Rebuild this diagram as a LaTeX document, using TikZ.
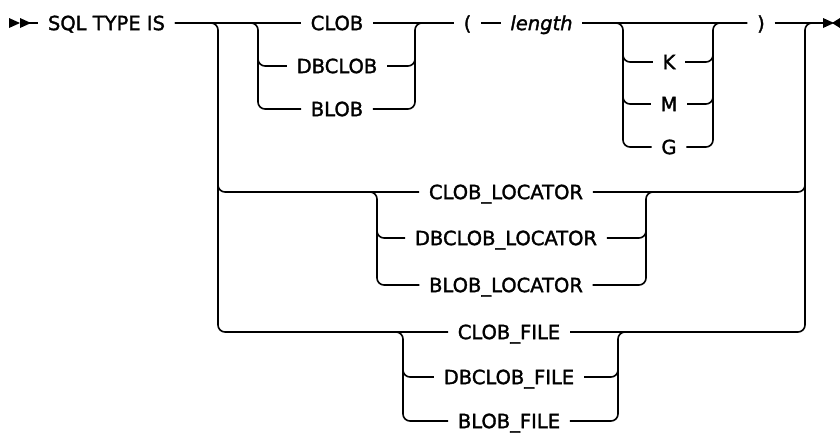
\documentclass[tikz,border=0pt]{standalone}
\usepackage{fontspec}
\setmainfont{DejaVu Sans}
\newfontfamily\railfont[FakeBold=1.6]{DejaVu Sans}
\usepackage{tikz}
\newcommand{\RailTipRight}[2]{\fill (#1,#2-5) -- (#1+11,#2) -- (#1,#2+5) -- cycle;}
\newcommand{\RailTipLeft}[2]{\fill (#1,#2-5) -- (#1-8,#2) -- (#1,#2+5) -- cycle;}
\newcommand{\RailFont}{\railfont\fontsize{19.5}{22}\selectfont}

\begin{document}
\begin{tikzpicture}[x=1pt,y=-1pt,line width=1.6pt,
		kw/.style={font=\RailFont, inner xsep=9pt, inner ysep=0pt, text height=14.2pt, text depth=0pt},
		rail/.style={rounded corners=7pt}]
		\useasboundingbox (0,0) rectangle (840,434);
		% keywords
		\node[kw] (sql) at (106.5,23) {SQL TYPE IS};
		\node[kw] (clob) at (337,23) {CLOB};
		\node[kw] (dbclob) at (337,66) {DBCLOB};
		\node[kw] (blob) at (337,109) {BLOB};
		\node[kw] (lpar) at (467.5,23) {(};
		\node[kw] (len) at (541.5,23) {\itshape length};
		\node[kw] (kk) at (669,62) {K};
		\node[kw] (mm) at (669,104) {M};
		\node[kw] (gg) at (669,147) {G};
		\node[kw] (rpar) at (761,23) {)};
		\node[kw] (cloc) at (506,192) {CLOB\_LOCATOR};
		\node[kw] (dbloc) at (506,238) {DBCLOB\_LOCATOR};
		\node[kw] (bloc) at (506,285) {BLOB\_LOCATOR};
		\node[kw] (cfile) at (509,332) {CLOB\_FILE};
		\node[kw] (dbfile) at (509,377) {DBCLOB\_FILE};
		\node[kw] (bfile) at (509,421) {BLOB\_FILE};
		% junctions
		\coordinate (tipS) at (20,23);
		\coordinate (tipE) at (832,23);
		\coordinate (oL) at (218,23);
		\coordinate (oR) at (805,23);
		\coordinate (cL) at (258,23);
		\coordinate (cR) at (415,23);
		\coordinate (kL) at (623,23);
		\coordinate (kR) at (713,23);
		\coordinate (lL) at (377,192);
		\coordinate (lR) at (646,192);
		\coordinate (fL) at (403,332);
		\coordinate (fR) at (618,332);
		% main line
		\draw (tipS) -- (sql.west);
		\draw (sql.east) -- (clob.west);
		\draw (clob.east) -- (lpar.west);
		\draw (lpar.east) -- (len.west);
		\draw (len.east) -- (rpar.west);
		\draw (rpar.east) -- (tipE);
		\RailTipRight{9}{23}
		\RailTipRight{20}{23}
		\RailTipRight{823}{23}
		\RailTipLeft{840}{23}
		% CLOB / DBCLOB / BLOB
		\draw[rail] (sql.east) -- (cL) -- (cL |- blob) -- (blob.west);
		\draw[rail] ([yshift=-20pt]cL) -- (cL |- dbclob) -- (dbclob.west);
		\draw[rail] (blob.east) -- (cR |- blob) -- (cR) -- (lpar.west);
		\draw[rail] (dbclob.east) -- (cR |- dbclob) -- ++(0,-20);
		% K / M / G
		\draw[rail] (len.east) -- (kL) -- (kL |- gg) -- (gg.west);
		\draw[rail] ([yshift=-20pt]kL) -- (kL |- kk) -- (kk.west);
		\draw[rail] ([yshift=-20pt]kL) -- (kL |- mm) -- (mm.west);
		\draw[rail] (gg.east) -- (kR |- gg) -- (kR) -- (rpar.west);
		\draw[rail] (kk.east) -- (kR |- kk) -- ++(0,-15);
		\draw[rail] (mm.east) -- (kR |- mm) -- ++(0,-20);
		% outer branch
		\draw[rail] (sql.east) -- (oL) -- (oL |- cfile) -- (cfile.west);
		\draw[rail] ([yshift=-20pt]oL) -- (oL |- cloc) -- (cloc.west);
		\draw[rail] (cfile.east) -- (oR |- cfile) -- (oR) -- (tipE);
		\draw[rail] (cloc.east) -- (oR |- cloc) -- ++(0,-20);
		% locators
		\draw[rail] ([xshift=-20pt]lL) -- (lL) -- (lL |- bloc) -- (bloc.west);
		\draw[rail] ([yshift=-20pt]lL) -- (lL |- dbloc) -- (dbloc.west);
		\draw[rail] (bloc.east) -- (lR |- bloc) -- (lR) -- ([xshift=20pt]lR);
		\draw[rail] (dbloc.east) -- (lR |- dbloc) -- ++(0,-20);
		% files
		\draw[rail] ([xshift=-20pt]fL) -- (fL) -- (fL |- bfile) -- (bfile.west);
		\draw[rail] ([yshift=-20pt]fL) -- (fL |- dbfile) -- (dbfile.west);
		\draw[rail] (bfile.east) -- (fR |- bfile) -- (fR) -- ([xshift=20pt]fR);
		\draw[rail] (dbfile.east) -- (fR |- dbfile) -- ++(0,-20);
\end{tikzpicture}
\end{document}
